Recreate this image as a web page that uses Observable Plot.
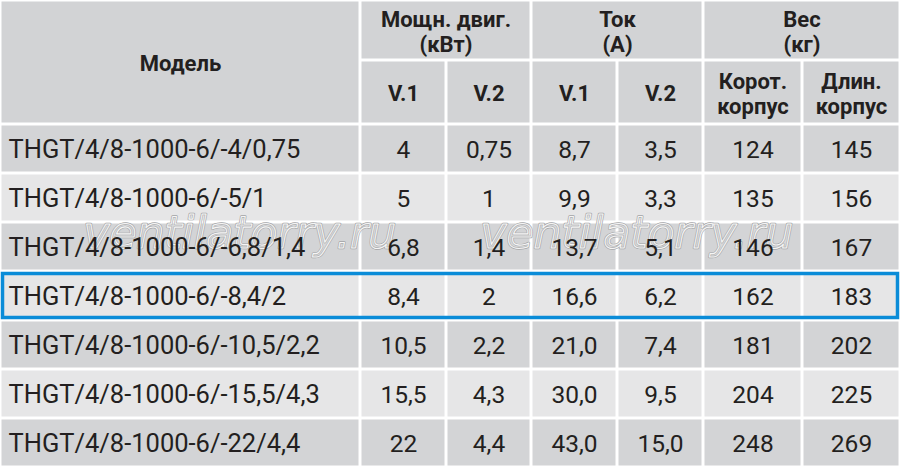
<!DOCTYPE html>
<html><head><meta charset="utf-8">
<script src="https://cdn.jsdelivr.net/npm/d3@7"></script>
<script src="https://cdn.jsdelivr.net/npm/@observablehq/plot@0.6"></script>
<style>
html,body{margin:0;padding:0;background:#fff;}
</style>
</head><body>
<div id="chart"></div>
<script>
// ---- data ----
const models = [
  "THGT/4/8-1000-6/-4/0,75",
  "THGT/4/8-1000-6/-5/1",
  "THGT/4/8-1000-6/-6,8/1,4",
  "THGT/4/8-1000-6/-8,4/2",
  "THGT/4/8-1000-6/-10,5/2,2",
  "THGT/4/8-1000-6/-15,5/4,3",
  "THGT/4/8-1000-6/-22/4,4"
];
const powerV1 = [4, 5, 6.8, 8.4, 10.5, 15.5, 22];
const powerV2 = [0.75, 1, 1.4, 2, 2.2, 4.3, 4.4];
const currentV1 = [8.7, 9.9, 13.7, 16.6, 21.0, 30.0, 43.0];
const currentV2 = [3.5, 3.3, 5.1, 6.2, 7.4, 9.5, 15.0];
const weightShort = [124, 135, 146, 162, 181, 204, 248];
const weightLong = [145, 156, 167, 183, 202, 225, 269];
const groupHeaders = ["Модель", "Мощн. двиг.\n(кВт)", "Ток\n(А)", "Вес\n(кг)"];
const subHeaders = ["V.1", "V.2", "V.1", "V.2", "Корот.\nкорпус", "Длин.\nкорпус"];
const highlightRow = 3;
const watermarkText = "ventilatorry.ru";

// ---- layout (not data) ----
const colWidths = [360, 86, 85, 86, 86, 99, 98];
const headerHeights = [60, 64];
const rowHeight = 49;
const colEdges = [0]; colWidths.forEach(w => colEdges.push(colEdges[colEdges.length-1] + w));
const W = colEdges[colEdges.length-1];
const headTop = headerHeights[0] + headerHeights[1];
const H = headTop + rowHeight * models.length;
const rowTop = i => headTop + i * rowHeight;

const fmtPlain = v => String(v).replace(".", ",");
const fmtOne = v => v.toFixed(1).replace(".", ",");

const C_HEAD = "#d2d3d5", C_DARK = "#d3d4d6", C_LIGHT = "#e6e6e7", C_TEXT = "#231f20", C_BLUE = "#0a8cd8";

// header cells
const headCells = [
  {x1: colEdges[0], x2: colEdges[1], y1: 0, y2: headTop, label: groupHeaders[0]},
  {x1: colEdges[1], x2: colEdges[3], y1: 0, y2: headerHeights[0], label: groupHeaders[1]},
  {x1: colEdges[3], x2: colEdges[5], y1: 0, y2: headerHeights[0], label: groupHeaders[2]},
  {x1: colEdges[5], x2: colEdges[7], y1: 0, y2: headerHeights[0], label: groupHeaders[3]},
  ...subHeaders.map((s, j) => ({x1: colEdges[j+1], x2: colEdges[j+2], y1: headerHeights[0], y2: headTop, label: s}))
];

// body cells
const columns = [
  models,
  powerV1.map(fmtPlain),
  powerV2.map(fmtPlain),
  currentV1.map(fmtOne),
  currentV2.map(fmtOne),
  weightShort.map(String),
  weightLong.map(String)
];
const bodyCells = [];
models.forEach((m, i) => {
  columns.forEach((col, j) => {
    bodyCells.push({x1: colEdges[j], x2: colEdges[j+1], y1: rowTop(i), y2: rowTop(i+1),
      label: col[i], col: j, fill: i % 2 === 0 ? C_DARK : C_LIGHT});
  });
});
const modelCells = bodyCells.filter(d => d.col === 0);
const valueCells = bodyCells.filter(d => d.col !== 0);

const watermarks = [
  {x: 83, y: 233, label: watermarkText},
  {x: 480, y: 233, label: watermarkText}
];

const wmBase = {x: "x", y: "y", text: "label", textAnchor: "start", fontSize: 44,
  fontFamily: "DejaVu Sans", fontStyle: "italic"};

const plot = Plot.plot({
  width: W, height: H, margin: 0,
  x: {domain: [0, W], range: [0, W], axis: null},
  y: {domain: [0, H], range: [0, H], axis: null},
  style: {background: "#fff"},
  marks: [
    Plot.rect(headCells, {x1: "x1", x2: "x2", y1: "y1", y2: "y2", fill: C_HEAD, inset: 1.5}),
    Plot.rect(bodyCells, {x1: "x1", x2: "x2", y1: "y1", y2: "y2", fill: "fill", inset: 1.5}),
    Plot.text(watermarks, {...wmBase, fill: "rgba(255,255,255,0.15)",
      stroke: "#a3a4a6", strokeWidth: 2.4, ariaLabel: "wm1"}),
    Plot.text(watermarks, {...wmBase, fill: "none",
      stroke: "#f5f5f5", strokeWidth: 1.1, ariaLabel: "wm2"}),
    Plot.text(headCells, {x: d => (d.x1 + d.x2) / 2, y: d => (d.y1 + d.y2) / 2 + 1, text: "label",
      fontSize: 22, fontWeight: "bold", fontFamily: "Roboto", fill: C_TEXT, lineHeight: 1.12}),
    Plot.text(modelCells, {x: d => d.x1 + 8, y: d => (d.y1 + d.y2) / 2 + 1, text: "label",
      textAnchor: "start", fontSize: 25.5, fontFamily: "Roboto", fill: C_TEXT}),
    Plot.text(valueCells, {x: d => (d.x1 + d.x2) / 2, y: d => (d.y1 + d.y2) / 2 + 1, text: "label",
      textAnchor: "middle", fontSize: 24.5, fontFamily: "Roboto", fill: C_TEXT}),
    Plot.rect([highlightRow], {x1: 0, x2: W, y1: i => rowTop(i), y2: i => rowTop(i+1),
      fill: "none", stroke: C_BLUE, strokeWidth: 3.5, inset: 2.5})
  ]
});
document.getElementById("chart").appendChild(plot);
d3.select(plot).selectAll('g[aria-label="wm1"] text, g[aria-label="wm2"] text')
  .attr("textLength", 333).attr("lengthAdjust", "spacingAndGlyphs");
</script>
</body></html>
